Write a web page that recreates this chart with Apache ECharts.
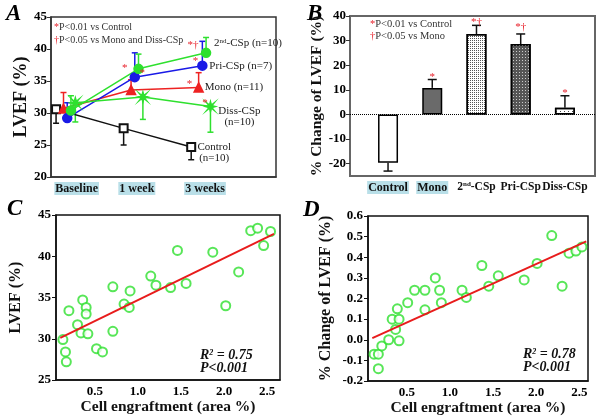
<!DOCTYPE html>
<html>
<head>
<meta charset="utf-8">
<script src="https://cdn.jsdelivr.net/npm/echarts@6/dist/echarts.min.js"></script>
<style>
  html, body { margin: 0; padding: 0; background: #fff; }
  #main { width: 601px; height: 417px; }
</style>
</head>
<body>
<div id="main"></div>
<script>
  // A: LVEF over time (mean, one-sided SD)
  const weekNames = ['Baseline', '1 week', '3 weeks']
  const controlLvef = [30.6, 27.6, 24.7]
  const controlSd = [2.2, 2.6, 2.0]
  const monoLvef = [30.7, 33.6, 34.0]
  const monoSd = [2.5, 1.6, 2.3]
  const priLvef = [29.2, 35.6, 37.4]
  const priSd = [2.4, 3.8, 3.8]
  const secLvef = [30.4, 36.9, 39.4]
  const secSd = [2.3, 2.3, 2.4]
  const dissLvef = [31.6, 32.5, 31.0]
  const dissSd = [3.0, 3.5, 4.0]
  const starsA = [[0.86, 37.4, '*'], [1.12, 36.6, '*'], [1.87, 40.9, '*†'], [1.91, 38.4, '*'], [1.82, 34.9, '*'], [2.05, 31.9, '*']]

  // B: % change of LVEF
  const groupNames = ['Control', 'Mono', '2nd-CSp', 'Pri-CSp', 'Diss-CSp']
  const lvefChange = [-19.6, 10.8, 32.7, 28.6, 2.7]
  const lvefChangeSd = [3.4, 3.4, 3.5, 4.1, 4.9]
  const starsB = [[1, 16.1, '*'], [2, 38.4, '*†'], [3, 36.1, '*†'], [4, 9.3, '*']]

  // C: LVEF vs engraftment
  const engraftC = [0.13, 0.16, 0.17, 0.20, 0.30, 0.34, 0.36, 0.40, 0.40, 0.42, 0.52, 0.59, 0.71, 0.71, 0.84, 0.90, 0.91, 1.15, 1.21, 1.38, 1.46, 1.56, 1.87, 2.02, 2.17, 2.31, 2.39, 2.46, 2.54]
  const lvefC = [29.9, 28.4, 27.2, 33.4, 31.7, 30.7, 34.7, 33.8, 33.0, 30.6, 28.8, 28.4, 36.3, 30.9, 34.2, 33.8, 35.8, 37.6, 36.5, 36.2, 40.7, 36.7, 40.5, 34.0, 38.1, 43.1, 43.4, 41.3, 43.0]
  const fitC = [[0.10, 30.1], [2.58, 42.7]]

  // D: % change of LVEF vs engraftment
  const engraftD = [0.12, 0.17, 0.17, 0.21, 0.29, 0.33, 0.37, 0.39, 0.41, 0.41, 0.51, 0.59, 0.71, 0.71, 0.83, 0.88, 0.90, 1.14, 1.19, 1.37, 1.45, 1.56, 1.86, 2.01, 2.18, 2.30, 2.38, 2.46, 2.53]
  const changeD = [-0.07, -0.07, -0.14, -0.03, 0.0, 0.1, 0.05, 0.15, 0.1, -0.005, 0.18, 0.24, 0.24, 0.145, 0.3, 0.24, 0.18, 0.24, 0.205, 0.36, 0.26, 0.31, 0.29, 0.37, 0.505, 0.26, 0.42, 0.43, 0.45]
  const fitD = [[0.10, 0.008], [2.58, 0.477]]

  const SERIF = '"Liberation Serif", "Times New Roman", serif'
  const GREEN = '#2ee02e'
  const dodge = { control: -0.155, mono: -0.045, pri: 0.01, sec: 0.065, diss: 0.13 }
  const weekLabelAt = [0.15, 1.04, 2.05]
  const barLabelAt = [0, 1, 2, 3, 4]

  const chart = echarts.init(document.getElementById('main'))

  function errorSeries(idx, data, color, cap) {
    return {
      type: 'custom',
      xAxisIndex: idx,
      yAxisIndex: idx,
      silent: true,
      z: 3,
      data: data,
      renderItem: function (params, api) {
        const a = api.coord([api.value(0), api.value(1)])
        const b = api.coord([api.value(0), api.value(2)])
        const st = { stroke: color, lineWidth: 1.5 }
        return {
          type: 'group',
          children: [
            { type: 'line', shape: { x1: a[0], y1: a[1], x2: b[0], y2: b[1] }, style: st },
            { type: 'line', shape: { x1: b[0] - cap / 2, y1: b[1], x2: b[0] + cap / 2, y2: b[1] }, style: st }
          ]
        }
      }
    }
  }

  function starSeries(idx, data) {
    return {
      type: 'custom',
      xAxisIndex: idx,
      yAxisIndex: idx,
      silent: true,
      z: 6,
      data: data,
      renderItem: function (params, api) {
        const p = api.coord([api.value(0), api.value(1)])
        return {
          type: 'text',
          x: p[0],
          y: p[1] + 2,
          style: {
            text: data[params.dataIndex][2],
            fill: '#e8202a',
            font: '11px ' + SERIF,
            align: 'center',
            verticalAlign: 'middle'
          }
        }
      }
    }
  }

  function groupLine(vals, sd, off, dir, color, symbol, size, label) {
    return [
      {
        type: 'line',
        xAxisIndex: 0,
        yAxisIndex: 0,
        z: 4,
        data: vals.map((v, i) => [i + off, v]),
        symbol: symbol,
        symbolSize: size,
        lineStyle: { color: color, width: 1.5 },
        itemStyle: { color: color, borderColor: color, borderWidth: 1.5 },
        endLabel: Object.assign({
          show: true,
          distance: 0,
          color: '#222',
          fontSize: 11,
          lineHeight: 11,
          fontFamily: SERIF
        }, label)
      },
      errorSeries(0, vals.map((v, i) => [i + off, v, v + dir * sd[i]]), color, 6)
    ]
  }

  const starPath = 'path://M0,-10L2,-3L7,-7L3,-2L10,0L3,2L7,7L2,3L0,10L-2,3L-7,7L-3,2L-10,0L-3,-2L-7,-7L-2,-3Z'
  const supRich = {
    t: { fontSize: 11, fontFamily: SERIF, color: '#222' },
    s: { fontSize: 7, fontFamily: SERIF, color: '#222', verticalAlign: 'top', padding: [0, 0, 4, 0] }
  }

  const tickLabel = { color: '#000', fontWeight: 'bold', fontSize: 13, fontFamily: SERIF }
  const boxLabel = { backgroundColor: '#b9dfe8', padding: [1, 1, 0, 1], fontWeight: 'bold', fontSize: 12, fontFamily: SERIF, color: '#111' }
  const plainLabel = { fontWeight: 'bold', fontSize: 11.5, fontFamily: SERIF, color: '#111' }

  const barStyles = [
    { color: '#fff', borderColor: '#000', borderWidth: 1.5 },
    { color: '#6a6a6a', borderColor: '#000', borderWidth: 1.5 },
    { color: '#fff', borderColor: '#000', borderWidth: 1.5, decal: { symbol: 'rect', symbolSize: 1, dashArrayX: [1, 1], dashArrayY: [1, 1], color: '#555' } },
    { color: '#555', borderColor: '#000', borderWidth: 1.5, decal: { symbol: 'rect', symbolSize: 1, dashArrayX: [1, 2], dashArrayY: [1, 2], color: '#ccc' } },
    { color: '#fff', borderColor: '#000', borderWidth: 1.5, decal: { symbol: 'rect', symbolSize: 1, dashArrayX: [1, 3], dashArrayY: [1, 2], color: '#444' } }
  ]

  const option = {
    animation: false,
    textStyle: { fontFamily: SERIF },
    grid: [
      { left: 51, top: 17, right: 325, bottom: 240, show: true, borderColor: '#333', borderWidth: 1.5 },
      { left: 350, top: 16, right: 6, bottom: 241, show: true, borderColor: '#666', borderWidth: 2 },
      { left: 56, top: 215, right: 321, bottom: 37, show: true, borderColor: '#111', borderWidth: 1.5 },
      { left: 368, top: 216, right: 13, bottom: 36, show: true, borderColor: '#111', borderWidth: 1.5 }
    ],
    xAxis: [
      {
        gridIndex: 0, type: 'value', min: -0.23, max: 3.1,
        axisLine: { onZero: false, lineStyle: { color: '#333', width: 1.5 } },
        axisTick: { show: false },
        splitLine: { show: false },
        axisLabel: Object.assign({
          customValues: weekLabelAt,
          margin: 5,
          formatter: (v) => weekNames[weekLabelAt.indexOf(v)] || ''
        }, boxLabel)
      },
      {
        gridIndex: 1, type: 'value', min: -0.86, max: 4.68,
        axisLine: { onZero: false, lineStyle: { color: '#666', width: 2 } },
        axisTick: { show: false },
        splitLine: { show: false },
        axisLabel: {
          customValues: barLabelAt,
          interval: 0,
          hideOverlap: false,
          showMinLabel: true,
          showMaxLabel: true,
          margin: 5,
          formatter: (v) => {
            const n = groupNames[v]
            if (v < 2) return '{box|' + n + '}'
            if (n === '2nd-CSp') return '{p|2}{sup|nd}{p|-CSp}'
            return '{p|' + n + '}'
          },
          rich: {
            box: boxLabel,
            p: plainLabel,
            sup: { fontWeight: 'bold', fontSize: 7, fontFamily: SERIF, color: '#111', verticalAlign: 'top', padding: [0, 0, 4, 0] }
          }
        }
      },
      {
        gridIndex: 2, type: 'value', min: 0.05, max: 2.65,
        name: 'Cell engraftment (area %)', nameLocation: 'middle', nameGap: 15,
        nameTextStyle: { fontWeight: 'bold', fontSize: 15.5, fontFamily: SERIF, color: '#111' },
        axisLine: { onZero: false, lineStyle: { color: '#111', width: 1.5 } },
        axisTick: { show: false },
        splitLine: { show: false },
        axisLabel: Object.assign({ customValues: [0.5, 1, 1.5, 2, 2.5], margin: 5, formatter: (v) => v.toFixed(1) }, tickLabel)
      },
      {
        gridIndex: 3, type: 'value', min: 0.05, max: 2.6,
        name: 'Cell engraftment (area %)', nameLocation: 'middle', nameGap: 15,
        nameTextStyle: { fontWeight: 'bold', fontSize: 15.5, fontFamily: SERIF, color: '#111' },
        axisLine: { onZero: false, lineStyle: { color: '#111', width: 1.5 } },
        axisTick: { show: false },
        splitLine: { show: false },
        axisLabel: Object.assign({ customValues: [0.5, 1, 1.5, 2, 2.5], margin: 5, formatter: (v) => v.toFixed(1) }, tickLabel)
      }
    ],
    yAxis: [
      {
        gridIndex: 0, type: 'value', min: 20, max: 45, interval: 5,
        name: 'LVEF (%)', nameLocation: 'middle', nameGap: 21,
        nameTextStyle: { fontWeight: 'bold', fontSize: 18, fontFamily: SERIF, color: '#111' },
        axisLine: { show: true, onZero: false, lineStyle: { color: '#333', width: 1.5 } },
        axisTick: { show: true, length: 4, lineStyle: { color: '#333' } },
        splitLine: { show: false },
        axisLabel: Object.assign({ margin: 4 }, tickLabel)
      },
      {
        gridIndex: 1, type: 'value', min: -25, max: 40,
        name: '% Change of LVEF (%)', nameLocation: 'middle', nameGap: 17,
        nameTextStyle: { fontWeight: 'bold', fontSize: 15.5, fontFamily: SERIF, color: '#111' },
        axisLine: { show: true, onZero: false, lineStyle: { color: '#666', width: 2 } },
        axisTick: { show: true, length: 4, customValues: [-20, -10, 0, 10, 20, 30, 40], lineStyle: { color: '#333' } },
        splitLine: { show: false },
        axisLabel: Object.assign({ margin: 4, customValues: [-20, -10, 0, 10, 20, 30, 40] }, tickLabel)
      },
      {
        gridIndex: 2, type: 'value', min: 25, max: 45, interval: 5,
        name: 'LVEF (%)', nameLocation: 'middle', nameGap: 32,
        nameTextStyle: { fontWeight: 'bold', fontSize: 16, fontFamily: SERIF, color: '#111' },
        axisLine: { show: true, onZero: false, lineStyle: { color: '#111', width: 1.5 } },
        axisTick: { show: true, length: 4, lineStyle: { color: '#111' } },
        splitLine: { show: false },
        axisLabel: Object.assign({ margin: 5 }, tickLabel)
      },
      {
        gridIndex: 3, type: 'value', min: -0.2, max: 0.6,
        name: '% Change of LVEF (%)', nameLocation: 'middle', nameGap: 34,
        nameTextStyle: { fontWeight: 'bold', fontSize: 16, fontFamily: SERIF, color: '#111' },
        axisLine: { show: true, onZero: false, lineStyle: { color: '#111', width: 1.5 } },
        axisTick: { show: true, length: 4, customValues: [-0.2, -0.1, 0, 0.1, 0.2, 0.3, 0.4, 0.5, 0.6], lineStyle: { color: '#111' } },
        splitLine: { show: false },
        axisLabel: Object.assign({ margin: 5, customValues: [-0.2, -0.1, 0, 0.1, 0.2, 0.3, 0.4, 0.5, 0.6], formatter: (v) => v.toFixed(1) }, tickLabel)
      }
    ],
    series: [
      ...groupLine(controlLvef, controlSd, dodge.control, -1, '#111', 'emptyRect', 8,
        { formatter: 'Control\n(n=10)', align: 'center', offset: [23, 6] }),
      ...groupLine(monoLvef, monoSd, dodge.mono, 1, '#ee2222', 'triangle', 9,
        { formatter: 'Mono (n=11)', offset: [6, 0] }),
      ...groupLine(priLvef, priSd, dodge.pri, 1, '#1a1ae6', 'circle', 9,
        { formatter: 'Pri-CSp (n=7)', offset: [7, 0] }),
      ...groupLine(dissLvef, dissSd, dodge.diss, -1, GREEN, starPath, 10,
        { formatter: 'Diss-CSp\n(n=10)', align: 'center', offset: [29, 10] }),
      ...groupLine(secLvef, secSd, dodge.sec, 1, GREEN, 'circle', 9,
        { formatter: '{t|2}{s|nd}{t|-CSp (n=10)}', rich: supRich, offset: [8, -10] }),
      starSeries(0, starsA),

      {
        type: 'bar',
        xAxisIndex: 1,
        yAxisIndex: 1,
        barWidth: 20,
        z: 2,
        data: lvefChange.map((v, i) => ({ value: [i, v], itemStyle: barStyles[i] })),
        markLine: {
          silent: true,
          symbol: 'none',
          label: { show: false },
          lineStyle: { type: 'dotted', color: '#000', width: 1 },
          data: [{ yAxis: 0 }]
        }
      },
      errorSeries(1, lvefChange.map((v, i) => [i, v, v + Math.sign(v) * lvefChangeSd[i]]), '#111', 9),
      starSeries(1, starsB),

      {
        type: 'scatter',
        xAxisIndex: 2,
        yAxisIndex: 2,
        symbol: 'emptyCircle',
        symbolSize: 9,
        itemStyle: { color: GREEN, borderColor: GREEN, borderWidth: 2 },
        data: engraftC.map((x, i) => [x, lvefC[i]])
      },
      {
        type: 'line',
        xAxisIndex: 2,
        yAxisIndex: 2,
        symbol: 'none',
        lineStyle: { color: '#e81c1c', width: 2 },
        data: fitC
      },
      {
        type: 'scatter',
        xAxisIndex: 3,
        yAxisIndex: 3,
        symbol: 'emptyCircle',
        symbolSize: 9,
        itemStyle: { color: GREEN, borderColor: GREEN, borderWidth: 2 },
        data: engraftD.map((x, i) => [x, changeD[i]])
      },
      {
        type: 'line',
        xAxisIndex: 3,
        yAxisIndex: 3,
        symbol: 'none',
        lineStyle: { color: '#e81c1c', width: 2 },
        data: fitD
      }
    ],
    graphic: [
      { type: 'text', left: 6, top: 3, style: { text: 'A', font: 'italic bold 23px ' + SERIF, fill: '#000' } },
      { type: 'text', left: 307, top: 3, style: { text: 'B', font: 'italic bold 23px ' + SERIF, fill: '#000' } },
      { type: 'text', left: 7, top: 198, style: { text: 'C', font: 'italic bold 23px ' + SERIF, fill: '#000' } },
      { type: 'text', left: 303, top: 199, style: { text: 'D', font: 'italic bold 23px ' + SERIF, fill: '#000' } },
      {
        type: 'text', left: 54, top: 21,
        style: {
          text: '{r|*}{t|P<0.01 vs Control}\n{r|†}{t|P<0.05 vs Mono and Diss-CSp}',
          lineHeight: 13,
          rich: {
            r: { fill: '#e8202a', font: '10px ' + SERIF, lineHeight: 13 },
            t: { fill: '#333', font: '10px ' + SERIF, lineHeight: 13 }
          }
        }
      },
      {
        type: 'text', left: 370, top: 18,
        style: {
          text: '{r|*}{t|P<0.01 vs Control}\n{r|†}{t|P<0.05 vs Mono}',
          lineHeight: 12,
          rich: {
            r: { fill: '#e8202a', font: '10.5px ' + SERIF, lineHeight: 12 },
            t: { fill: '#333', font: '10.5px ' + SERIF, lineHeight: 12 }
          }
        }
      },
      {
        type: 'text', left: 200, top: 348,
        style: {
          text: '{b|R}{s|2}{b| = 0.75}\n{b|P<0.001}',
          rich: {
            b: { fill: '#111', font: 'italic bold 14px ' + SERIF, lineHeight: 13 },
            s: { fill: '#111', font: 'italic bold 8px ' + SERIF, lineHeight: 13, verticalAlign: 'top', padding: [0, 0, 5, 0] }
          }
        }
      },
      {
        type: 'text', left: 523, top: 347,
        style: {
          text: '{b|R}{s|2}{b| = 0.78}\n{b|P<0.001}',
          rich: {
            b: { fill: '#111', font: 'italic bold 14px ' + SERIF, lineHeight: 13 },
            s: { fill: '#111', font: 'italic bold 8px ' + SERIF, lineHeight: 13, verticalAlign: 'top', padding: [0, 0, 5, 0] }
          }
        }
      }
    ]
  }

  chart.setOption(option)
</script>
</body>
</html>
